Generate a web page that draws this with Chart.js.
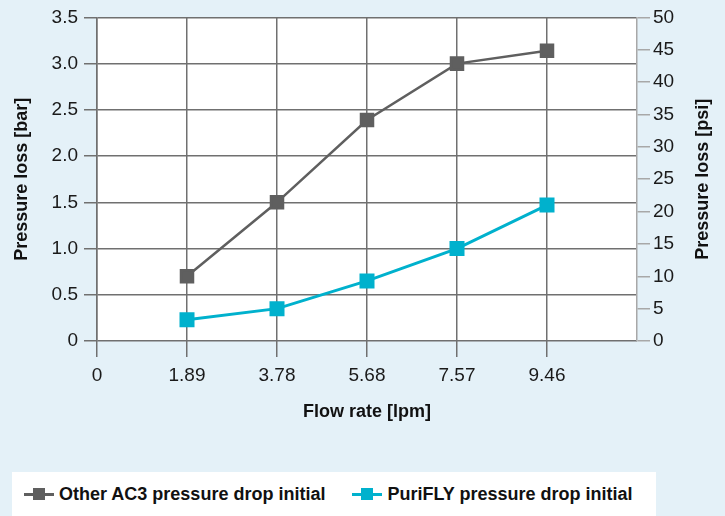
<!DOCTYPE html>
<html>
<head>
<meta charset="utf-8">
<script src="https://cdn.jsdelivr.net/npm/chart.js@4.4.1/dist/chart.umd.min.js"></script>
<style>
html, body { margin: 0; padding: 0; background: #e4f1f8; }
#wrap { position: relative; width: 725px; height: 516px; background: #e4f1f8; font-family: "Liberation Sans", Arial, sans-serif; }
#chart { position: absolute; left: 0; top: 0; }
#legend { position: absolute; left: 12px; top: 472px; width: 632px; height: 44px; padding-left: 12px; background: #fff; display: flex; align-items: center; font-weight: bold; font-size: 18px; color: #111; white-space: nowrap; }
.item { display: flex; align-items: center; margin-right: 27px; flex-shrink: 0; }
.mark { position: relative; width: 30px; height: 12px; margin-right: 5px; flex-shrink: 0; }
.mark .ln { position: absolute; left: 0; right: 0; top: 5px; height: 3px; }
.mark .sq { position: absolute; left: 9px; top: 0; width: 12px; height: 12px; }
</style>
</head>
<body>
<div id="wrap">
  <canvas id="chart" width="725" height="472"></canvas>
  <div id="legend"></div>
</div>
<script>
// flow rate categories (first and last slots carry no data)
const flowLabels = ['0', '1.89', '3.78', '5.68', '7.57', '9.46', ''];
const otherAC3 = [null, 0.70, 1.50, 2.39, 3.00, 3.14, null];
const puriFly = [null, 0.23, 0.35, 0.65, 1.00, 1.47, null];
const seriesNames = ['Other AC3 pressure drop initial', 'PuriFLY pressure drop initial'];
const seriesColors = ['#5f5f5f', '#00b1cd'];

const gridGray = '#707070';
const lightGray = '#a8a8a8';

Chart.defaults.font.family = '"Liberation Sans", Arial, sans-serif';
Chart.defaults.color = '#1a1a1a';

// white plot area
const plotBg = {
    id: 'plotBg',
    beforeDraw(chart) {
        const a = chart.chartArea;
        chart.ctx.save();
        chart.ctx.fillStyle = '#ffffff';
        chart.ctx.fillRect(a.left, a.top, a.right - a.left, a.bottom - a.top);
        chart.ctx.restore();
    }
};

// right title reads bottom-to-top like the left one, so draw it by hand
const rightTitle = {
    id: 'rightTitle',
    afterDraw(chart) {
        const s = chart.scales.y1;
        const ctx = chart.ctx;
        const area = chart.chartArea;
        ctx.save();
        ctx.translate(s.right - 22, (area.top + area.bottom) / 2);
        ctx.rotate(-Math.PI / 2);
        ctx.font = 'bold 18px "Liberation Sans", Arial, sans-serif';
        ctx.fillStyle = '#111';
        ctx.textAlign = 'center';
        ctx.textBaseline = 'middle';
        ctx.fillText('Pressure loss [psi]', 0, 0);
        ctx.restore();
    }
};

const chart = new Chart(document.getElementById('chart'), {
    type: 'line',
    data: {
        labels: flowLabels,
        datasets: [{
            label: seriesNames[0],
            data: otherAC3,
            borderColor: seriesColors[0],
            backgroundColor: seriesColors[0],
            borderWidth: 2.5,
            pointStyle: 'rect',
            pointRadius: 8.5,
            pointHoverRadius: 8.5,
            yAxisID: 'y'
        }, {
            label: seriesNames[1],
            data: puriFly,
            borderColor: seriesColors[1],
            backgroundColor: seriesColors[1],
            borderWidth: 3,
            pointStyle: 'rect',
            pointRadius: 8.5,
            pointHoverRadius: 8.5,
            yAxisID: 'y'
        }]
    },
    options: {
        responsive: false,
        animation: false,
        layout: { padding: { top: 17, left: 0, right: 0, bottom: 0 } },
        plugins: {
            legend: { display: false },
            tooltip: { enabled: false }
        },
        scales: {
            x: {
                type: 'category',
                offset: false,
                ticks: { font: { size: 19 }, padding: 7, maxRotation: 0, autoSkip: false },
                grid: {
                    color: c => c.index === flowLabels.length - 1 ? 'rgba(0,0,0,0)' : gridGray,
                    lineWidth: 1.5,
                    tickLength: 16
                },
                border: { display: false },
                title: {
                    display: true,
                    text: 'Flow rate [lpm]',
                    font: { size: 18, weight: 'bold' },
                    color: '#111',
                    padding: { top: 0, bottom: 49 }
                },
                afterFit: s => { s.height = 131; }
            },
            y: {
                position: 'left',
                min: 0,
                max: 3.5,
                ticks: {
                    stepSize: 0.5,
                    font: { size: 19 },
                    padding: 6,
                    callback: v => v === 0 ? '0' : v.toFixed(1)
                },
                grid: { color: gridGray, lineWidth: 1.5, tickLength: 13 },
                border: { color: gridGray, width: 1.5 },
                title: {
                    display: true,
                    text: 'Pressure loss [bar]',
                    font: { size: 18, weight: 'bold' },
                    color: '#111',
                    padding: { top: 11, bottom: 0 }
                },
                afterFit: s => { s.width = 97; }
            },
            y1: {
                position: 'right',
                min: 0,
                max: 50,
                ticks: { stepSize: 5, font: { size: 19 }, padding: 3 },
                grid: { drawOnChartArea: false, color: lightGray, lineWidth: 1.5, tickLength: 13 },
                border: { color: lightGray, width: 1.5 },
                afterFit: s => { s.width = 88; }
            }
        }
    },
    plugins: [plotBg, rightTitle]
});

// html legend built from the datasets
const legend = document.getElementById('legend');
chart.data.datasets.forEach(ds => {
    const item = document.createElement('div');
    item.className = 'item';
    item.innerHTML = '<span class="mark"><span class="ln" style="background:' + ds.borderColor +
        '"></span><span class="sq" style="background:' + ds.borderColor + '"></span></span>';
    const txt = document.createElement('span');
    txt.textContent = ds.label;
    item.appendChild(txt);
    legend.appendChild(item);
});
</script>
</body>
</html>
